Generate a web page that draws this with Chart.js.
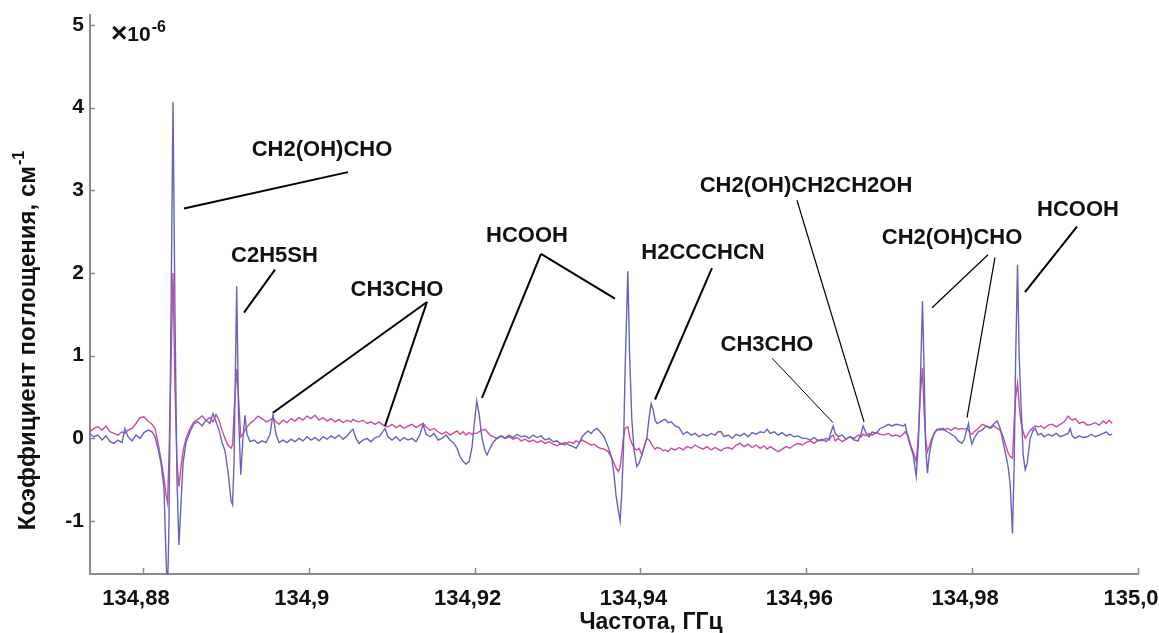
<!DOCTYPE html>
<html>
<head>
<meta charset="utf-8">
<title>Спектр поглощения</title>
<script src="https://cdn.jsdelivr.net/npm/chart.js@4.4.1/dist/chart.umd.min.js"></script>
<style>
  html, body { margin: 0; padding: 0; background: #fff; }
  #wrap { width: 1159px; height: 633px; }
</style>
</head>
<body>
<div id="wrap"><canvas id="spectrum" width="1159" height="633"></canvas></div>
<script>
// frequency, GHz (shared by both records)
const freqGHz = [
  134.87361, 134.87409, 134.87457, 134.87505, 134.87554, 134.87602, 134.87650, 134.87698, 134.87747, 134.87783,
  134.87819, 134.87867, 134.87916, 134.87964, 134.88012, 134.88060, 134.88109, 134.88145, 134.88181, 134.88217,
  134.88253, 134.88277, 134.88296, 134.88314, 134.88338, 134.88362, 134.88386, 134.88410, 134.88434, 134.88458,
  134.88483, 134.88519, 134.88567, 134.88615, 134.88663, 134.88712, 134.88760, 134.88808, 134.88844, 134.88881,
  134.88917, 134.88953, 134.88989, 134.89025, 134.89062, 134.89080, 134.89098, 134.89130, 134.89152, 134.89179,
  134.89206, 134.89230, 134.89255, 134.89291, 134.89339, 134.89387, 134.89435, 134.89484, 134.89532, 134.89568,
  134.89604, 134.89641, 134.89689, 134.89737, 134.89785, 134.89834, 134.89882, 134.89930, 134.89978, 134.90027,
  134.90075, 134.90123, 134.90171, 134.90220, 134.90268, 134.90316, 134.90364, 134.90413, 134.90461, 134.90509,
  134.90533, 134.90569, 134.90606, 134.90654, 134.90702, 134.90750, 134.90799, 134.90847, 134.90883, 134.90919,
  134.90955, 134.91004, 134.91052, 134.91100, 134.91148, 134.91197, 134.91245, 134.91293, 134.91341, 134.91378,
  134.91414, 134.91462, 134.91510, 134.91559, 134.91607, 134.91655, 134.91703, 134.91752, 134.91788, 134.91824,
  134.91860, 134.91896, 134.91933, 134.91969, 134.91993, 134.92025, 134.92053, 134.92089, 134.92126, 134.92150,
  134.92186, 134.92222, 134.92270, 134.92319, 134.92367, 134.92415, 134.92463, 134.92512, 134.92560, 134.92608,
  134.92656, 134.92705, 134.92753, 134.92801, 134.92849, 134.92898, 134.92946, 134.92994, 134.93042, 134.93091,
  134.93139, 134.93187, 134.93223, 134.93260, 134.93296, 134.93332, 134.93368, 134.93404, 134.93440, 134.93477,
  134.93513, 134.93561, 134.93609, 134.93654, 134.93682, 134.93706, 134.93734, 134.93754, 134.93772, 134.93794,
  134.93814, 134.93847, 134.93869, 134.93895, 134.93923, 134.93956, 134.93983, 134.94016, 134.94044, 134.94076,
  134.94104, 134.94128, 134.94152, 134.94176, 134.94200, 134.94237, 134.94273, 134.94297, 134.94333, 134.94369,
  134.94418, 134.94466, 134.94514, 134.94562, 134.94611, 134.94659, 134.94707, 134.94755, 134.94804, 134.94852,
  134.94900, 134.94936, 134.94972, 134.95009, 134.95057, 134.95105, 134.95153, 134.95202, 134.95250, 134.95298,
  134.95346, 134.95395, 134.95443, 134.95491, 134.95527, 134.95564, 134.95612, 134.95660, 134.95708, 134.95757,
  134.95805, 134.95853, 134.95901, 134.95950, 134.95998, 134.96046, 134.96094, 134.96143, 134.96191, 134.96239,
  134.96275, 134.96299, 134.96324, 134.96348, 134.96384, 134.96432, 134.96480, 134.96529, 134.96577, 134.96625,
  134.96661, 134.96685, 134.96722, 134.96758, 134.96794, 134.96842, 134.96890, 134.96939, 134.96987, 134.97035,
  134.97083, 134.97132, 134.97168, 134.97192, 134.97228, 134.97264, 134.97289, 134.97325, 134.97349, 134.97373,
  134.97401, 134.97421, 134.97439, 134.97461, 134.97482, 134.97514, 134.97542, 134.97574, 134.97614, 134.97650,
  134.97699, 134.97747, 134.97795, 134.97831, 134.97876, 134.97904, 134.97928, 134.97956, 134.97976, 134.97997,
  134.98024, 134.98073, 134.98121, 134.98169, 134.98217, 134.98266, 134.98302, 134.98338, 134.98374, 134.98398,
  134.98435, 134.98459, 134.98486, 134.98507, 134.98525, 134.98547, 134.98567, 134.98588, 134.98615, 134.98640,
  134.98664, 134.98700, 134.98736, 134.98760, 134.98796, 134.98833, 134.98869, 134.98917, 134.98965, 134.99014,
  134.99062, 134.99110, 134.99158, 134.99182, 134.99207, 134.99243, 134.99291, 134.99339, 134.99387, 134.99436,
  134.99484, 134.99532, 134.99580, 134.99617, 134.99653, 134.99689
];

// absorption, x1e-6 cm^-1 (blue record)
const absBlue = [
  0.05, 0.02, 0.04, -0.02, 0.03, -0.04, -0.06, -0.02, -0.05, 0.12,
  0.02, -0.03, 0.04, 0.0, 0.07, 0.1, 0.08, 0.02, -0.12, -0.3,
  -0.6, -1.4, -1.9, -1.0, 1.5, 4.07, 1.5, -0.5, -1.29, -0.8,
  -0.3, -0.05, 0.08, 0.18, 0.2, 0.15, 0.22, 0.18, 0.3, 0.2,
  0.1, -0.05, -0.15, -0.4, -0.75, -0.8, -0.3, 1.84, 0.3, -0.44,
  0.0, 0.28, 0.05, -0.04, -0.02, -0.06, -0.03, -0.05, 0.05, 0.29,
  0.05, -0.05, -0.02, -0.05, -0.01, -0.04, 0.0, -0.03, 0.02, -0.02,
  0.01, -0.03, 0.02, -0.01, 0.03, 0.0, 0.04, -0.01, 0.03, 0.09,
  0.11, 0.0, -0.06, -0.02, 0.0, -0.04, 0.01, 0.02, 0.07, 0.12,
  0.02, -0.02, 0.02, -0.03, 0.01, -0.02, 0.0, -0.04, 0.05, 0.17,
  0.05, 0.02, 0.06, -0.02, 0.0, 0.04, -0.02, -0.06, -0.12, -0.22,
  -0.28, -0.31, -0.28, -0.1, 0.15, 0.45, 0.3, 0.0, -0.15, -0.2,
  -0.12, -0.05, 0.0, 0.03, 0.0, 0.04, 0.01, 0.05, 0.02, 0.03,
  0.0, 0.04, 0.01, 0.03, -0.02, 0.0, -0.04, -0.03, -0.07, -0.05,
  -0.08, -0.1, -0.12, -0.06, 0.02, 0.06, 0.09, 0.06, 0.1, 0.12,
  0.08, 0.02, -0.1, -0.24, -0.45, -0.7, -0.88, -1.0, -0.7, -0.15,
  0.8, 2.02, 1.0, 0.24, -0.15, -0.34, -0.3, -0.2, -0.1, 0.0,
  0.25, 0.42, 0.35, 0.22, 0.18, 0.2, 0.22, 0.23, 0.19, 0.2,
  0.15, 0.13, 0.05, 0.08, 0.04, 0.06, 0.02, 0.05, 0.03, 0.06,
  0.04, 0.08, 0.08, 0.02, 0.04, 0.0, 0.05, 0.03, 0.06, 0.02,
  0.07, 0.05, 0.08, 0.07, 0.11, 0.06, 0.08, 0.04, 0.07, 0.03,
  0.05, 0.02, 0.03, 0.0, 0.0, -0.02, 0.01, -0.03, -0.01, -0.04,
  0.0, 0.08, 0.15, 0.06, 0.02, 0.04, -0.01, 0.02, -0.02, -0.03,
  0.06, 0.15, 0.06, 0.02, 0.08, 0.06, 0.12, 0.14, 0.17, 0.15,
  0.17, 0.16, 0.15, 0.17, 0.0, -0.12, -0.2, -0.46, -0.1, 0.6,
  1.66, 0.8, -0.1, -0.42, -0.2, -0.03, 0.06, 0.11, 0.1, 0.12,
  0.08, 0.05, 0.02, -0.03, -0.06, -0.02, 0.08, 0.18, 0.02, -0.07,
  0.0, 0.08, 0.1, 0.15, 0.13, 0.18, 0.21, 0.12, -0.05, -0.16,
  -0.35, -0.56, -1.15, -0.3, 1.0, 2.1, 1.0, 0.45, -0.2, -0.38,
  -0.3, 0.0, 0.1, 0.12, 0.04, 0.06, 0.02, 0.05, 0.03, 0.06,
  0.02, 0.04, 0.06, 0.12, 0.03, 0.0, 0.03, 0.01, 0.02, 0.05,
  0.02, 0.04, 0.06, 0.08, 0.04, 0.05
];

// absorption, x1e-6 cm^-1 (pink record)
const absPink = [
  0.08, 0.12, 0.14, 0.1, 0.15, 0.08, 0.06, 0.04, 0.08, 0.06,
  0.1, 0.12, 0.18, 0.25, 0.26, 0.21, 0.17, 0.12, -0.05, -0.25,
  -0.48, -0.68, -0.78, -0.2, 0.9, 2.0, 0.6, -0.3, -0.58, -0.35,
  -0.15, 0.0, 0.12, 0.2, 0.23, 0.27, 0.22, 0.25, 0.2, 0.29,
  0.22, 0.1, 0.0, -0.08, -0.12, -0.08, 0.3, 0.84, 0.5, 0.02,
  0.05, 0.1, 0.14, 0.18, 0.22, 0.27, 0.24, 0.2, 0.22, 0.25,
  0.2, 0.17, 0.22, 0.19, 0.24, 0.21, 0.25, 0.22, 0.27, 0.24,
  0.28, 0.22, 0.25, 0.21, 0.24, 0.2, 0.23, 0.19, 0.22, 0.2,
  0.23, 0.21, 0.2, 0.22, 0.18, 0.2, 0.17, 0.2, 0.17, 0.15,
  0.14, 0.17, 0.13, 0.16, 0.12, 0.15, 0.17, 0.13, 0.16, 0.18,
  0.14, 0.1, 0.12, 0.08, 0.05, 0.08, 0.04, 0.07, 0.09, 0.05,
  0.08, 0.04, 0.07, 0.05, 0.06, 0.06, 0.08, 0.1, 0.11, 0.08,
  0.04, 0.02, 0.0, 0.03, 0.0, 0.02, -0.01, 0.01, -0.03, -0.01,
  -0.04, -0.02, -0.05, -0.03, -0.06, -0.04, -0.07, -0.09, -0.06, -0.08,
  -0.04, -0.06, -0.03, -0.05, -0.02, -0.04, -0.06, -0.08, -0.07, -0.1,
  -0.12, -0.13, -0.16, -0.24, -0.3, -0.36, -0.4, -0.35, -0.2, 0.0,
  0.12, 0.14, 0.02, -0.06, -0.12, -0.14, -0.12, -0.2, -0.1, 0.0,
  -0.02, -0.06, -0.1, -0.13, -0.11, -0.12, -0.15, -0.14, -0.16, -0.12,
  -0.14, -0.11, -0.14, -0.1, -0.12, -0.08, -0.11, -0.13, -0.1, -0.14,
  -0.11, -0.13, -0.15, -0.12, -0.11, -0.13, -0.08, -0.06, -0.1, -0.07,
  -0.11, -0.08, -0.12, -0.09, -0.13, -0.1, -0.13, -0.16, -0.13, -0.1,
  -0.12, -0.08, -0.06, -0.08, -0.05, -0.03, -0.06, -0.02, -0.03, 0.0,
  -0.02, 0.02, 0.04, -0.03, 0.0, -0.04, -0.01, 0.02, 0.0, 0.04,
  0.02, 0.05, 0.03, 0.06, 0.04, 0.07, 0.05, 0.04, 0.06, 0.03,
  0.04, 0.02, 0.05, 0.08, 0.03, -0.1, -0.16, -0.28, 0.0, 0.5,
  0.85, 0.3, 0.0, -0.16, -0.1, 0.0, 0.06, 0.1, 0.12, 0.1,
  0.12, 0.1, 0.13, 0.11, 0.12, 0.11, 0.12, 0.1, 0.06, 0.05,
  0.08, 0.12, 0.17, 0.15, 0.12, 0.15, 0.12, 0.1, 0.02, -0.06,
  -0.18, -0.22, -0.24, 0.2, 0.5, 0.67, 0.4, 0.2, 0.08, 0.0,
  0.04, 0.1, 0.13, 0.15, 0.14, 0.15, 0.12, 0.16, 0.17, 0.14,
  0.17, 0.2, 0.27, 0.24, 0.22, 0.24, 0.18, 0.2, 0.16, 0.17,
  0.19, 0.16, 0.21, 0.18, 0.22, 0.18
];

const xTicks = [134.88, 134.9, 134.92, 134.94, 134.96, 134.98, 135.0];
const xTickLabels = ['134,88', '134,9', '134,92', '134,94', '134,96', '134,98', '135,0'];
const yTicks = [-1, 0, 1, 2, 3, 4, 5];

const xTitle = 'Частота, ГГц';
const yTitle = 'Коэффициент поглощения, см';
const yTitleSup = '-1';
const scaleCross = '×';
const scaleNote = '10';
const scaleNoteSup = '-6';

// line assignments: label anchor and leader lines, in data units (GHz, x1e-6)
const lineLabels = [
  { text: 'CH2(OH)CHO', at: [134.90159, 3.49], lw: 2, lines: [[134.90472, 3.22, 134.88494, 2.78]] },
  { text: 'C2H5SH', at: [134.89586, 2.21], lw: 2, lines: [[134.89592, 2.04, 134.89218, 1.52]] },
  { text: 'CH3CHO', at: [134.91063, 1.80], lw: 2, lines: [[134.91425, 1.65, 134.89568, 0.31], [134.91425, 1.65, 134.90919, 0.15]] },
  { text: 'HCOOH', at: [134.92631, 2.45], lw: 2, lines: [[134.92800, 2.23, 134.92088, 0.49], [134.92800, 2.23, 134.93692, 1.69]] },
  { text: 'H2CCCHCN', at: [134.94754, 2.24], lw: 2, lines: [[134.94862, 2.06, 134.94175, 0.47]] },
  { text: 'CH3CHO', at: [134.95526, 1.13], lw: 1, lines: [[134.95586, 0.97, 134.96322, 0.19]] },
  { text: 'CH2(OH)CH2CH2OH', at: [134.95996, 3.05], lw: 1.2, lines: [[134.95887, 2.88, 134.96696, 0.20]] },
  { text: 'CH2(OH)CHO', at: [134.97757, 2.43], lw: 1.2, lines: [[134.98191, 2.22, 134.97516, 1.58], [134.98275, 2.19, 134.97938, 0.25]] },
  { text: 'HCOOH', at: [134.99276, 2.76], lw: 2, lines: [[134.99264, 2.56, 134.98637, 1.77]] }
];

const fontFamily = "'Liberation Sans', Arial, Helvetica, sans-serif";
const textColor = '#111';
const axisColor = '#8a8a8a';

let toPoints = (vals) => freqGHz.map((f, i) => ({ x: f, y: vals[i] }));

// tick marks pointing into the plot, plus all the text the axes can't do
const decorPlugin = {
  id: 'decor',
  afterDatasetsDraw(chart) {
    const ctx = chart.ctx;
    const xs = chart.scales.x;
    const ys = chart.scales.y;
    ctx.save();
    ctx.strokeStyle = '#000';
    ctx.fillStyle = textColor;
    lineLabels.forEach(lab => {
      ctx.lineWidth = lab.lw;
      lab.lines.forEach(l => {
        ctx.beginPath();
        ctx.moveTo(xs.getPixelForValue(l[0]), ys.getPixelForValue(l[1]));
        ctx.lineTo(xs.getPixelForValue(l[2]), ys.getPixelForValue(l[3]));
        ctx.stroke();
      });
      ctx.font = 'bold 22px ' + fontFamily;
      ctx.textAlign = 'center';
      ctx.textBaseline = 'middle';
      ctx.fillText(lab.text, xs.getPixelForValue(lab.at[0]), ys.getPixelForValue(lab.at[1]));
    });
    ctx.restore();
  },
  afterDraw(chart) {
    const ctx = chart.ctx;
    const xs = chart.scales.x;
    const ys = chart.scales.y;
    const area = chart.chartArea;
    ctx.save();
    ctx.strokeStyle = axisColor;
    ctx.lineWidth = 1.5;
    xTicks.forEach(v => {
      const px = Math.round(xs.getPixelForValue(v)) + 0.5;
      ctx.beginPath();
      ctx.moveTo(px, area.bottom);
      ctx.lineTo(px, area.bottom - 6);
      ctx.stroke();
    });
    yTicks.forEach(v => {
      const py = Math.round(ys.getPixelForValue(v)) + 0.5;
      ctx.beginPath();
      ctx.moveTo(area.left, py);
      ctx.lineTo(area.left + 5, py);
      ctx.stroke();
    });

    ctx.fillStyle = textColor;
    ctx.textBaseline = 'alphabetic';

    // x axis title
    ctx.font = 'bold 23px ' + fontFamily;
    ctx.textAlign = 'center';
    ctx.fillText(xTitle, 651, 629);

    // y axis title with superscript
    ctx.save();
    ctx.translate(35, 341);
    ctx.rotate(-Math.PI / 2);
    ctx.textAlign = 'left';
    ctx.font = 'bold 24px ' + fontFamily;
    const w1 = ctx.measureText(yTitle).width;
    ctx.font = 'bold 16px ' + fontFamily;
    const w2 = ctx.measureText(yTitleSup).width;
    const start = -(w1 + w2) / 2;
    ctx.font = 'bold 24px ' + fontFamily;
    ctx.fillText(yTitle, start, 0);
    ctx.font = 'bold 16px ' + fontFamily;
    ctx.fillText(yTitleSup, start + w1 + 1, -11);
    ctx.restore();

    // x10^-6 multiplier
    ctx.textAlign = 'left';
    ctx.font = 'bold 28px ' + fontFamily;
    ctx.fillText(scaleCross, 111, 42);
    const wc = ctx.measureText(scaleCross).width;
    ctx.font = 'bold 21px ' + fontFamily;
    ctx.fillText(scaleNote, 111 + wc, 41);
    const w3 = ctx.measureText(scaleNote).width;
    ctx.font = 'bold 16px ' + fontFamily;
    ctx.fillText(scaleNoteSup, 111 + wc + w3 + 1, 32);
    ctx.restore();
  }
};

const chart = new Chart(document.getElementById('spectrum').getContext('2d'), {
  type: 'line',
  data: {
    datasets: [
      {
        label: 'blue',
        data: toPoints(absBlue),
        borderColor: '#6464c0',
        borderWidth: 1.4,
        pointRadius: 0,
        tension: 0,
        fill: false
      },
      {
        label: 'pink',
        data: toPoints(absPink),
        borderColor: '#cf48a2',
        borderWidth: 1.4,
        pointRadius: 0,
        tension: 0,
        fill: false
      }
    ]
  },
  options: {
    responsive: false,
    animation: false,
    devicePixelRatio: 1,
    layout: { padding: { left: 0, top: 15, right: 21, bottom: 0 } },
    plugins: {
      legend: { display: false },
      tooltip: { enabled: false }
    },
    scales: {
      x: {
        type: 'linear',
        min: 134.87361,
        max: 135.0,
        afterBuildTicks: s => { s.ticks = xTicks.map(v => ({ value: v })); },
        afterFit: s => { s.height = 59; s.paddingLeft = 0; s.paddingRight = 0; },
        grid: { display: false, drawTicks: false },
        border: { display: true, color: axisColor, width: 2 },
        ticks: {
          padding: 12,
          labelOffset: -7,
          maxRotation: 0,
          autoSkip: false,
          color: textColor,
          font: { family: fontFamily, size: 22, weight: 'bold' },
          callback: (v, i) => xTickLabels[i]
        }
      },
      y: {
        type: 'linear',
        min: -1.64,
        max: 5.12,
        afterBuildTicks: s => { s.ticks = yTicks.map(v => ({ value: v })); },
        afterFit: s => { s.width = 90; s.paddingTop = 0; s.paddingBottom = 0; },
        grid: { display: false, drawTicks: false },
        border: { display: true, color: axisColor, width: 2 },
        ticks: {
          padding: 6,
          color: textColor,
          font: { family: fontFamily, size: 21, weight: 'bold' },
          callback: v => String(v)
        }
      }
    }
  },
  plugins: [decorPlugin]
});
</script>
</body>
</html>
